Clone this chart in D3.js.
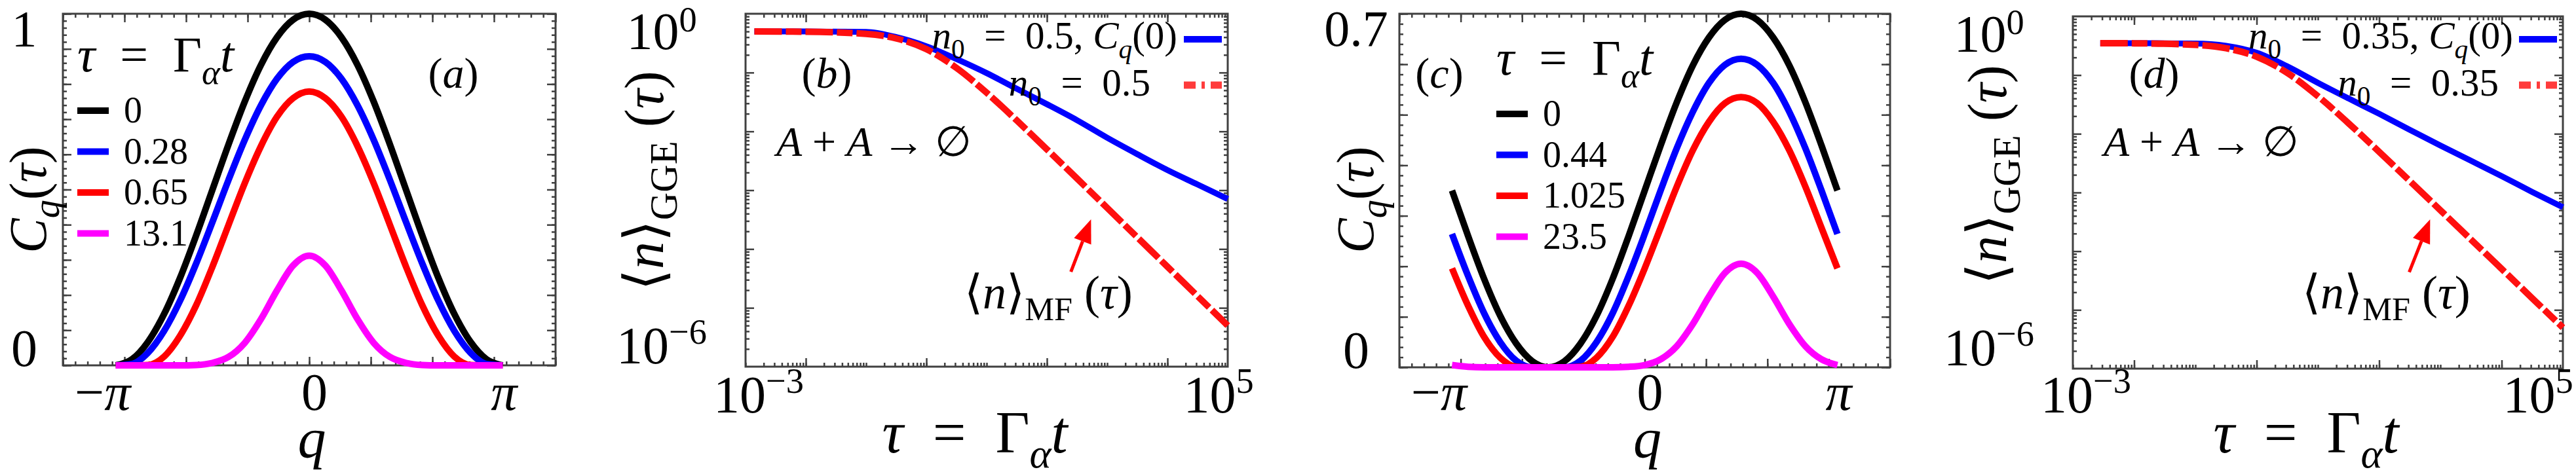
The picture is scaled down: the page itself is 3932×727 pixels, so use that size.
<!DOCTYPE html>
<html>
<head>
<meta charset="utf-8">
<script src="https://cdn.jsdelivr.net/npm/d3@7"></script>
<style>
body{margin:0;background:#fff;}
text,tspan{font-family:"Liberation Serif","DejaVu Serif",serif;white-space:pre;fill:#000;}
</style>
</head>
<body>
<svg id="fig" width="3932" height="727"></svg>
<script>
// momentum grid, -pi .. pi
var qVals=[-3.1416,-2.8798,-2.618,-2.3562,-2.0944,-1.8326,-1.5708,-1.309,-1.0472,-0.7854,-0.5236,-0.2618,0,
           0.2618,0.5236,0.7854,1.0472,1.309,1.5708,1.8326,2.0944,2.3562,2.618,2.8798,3.1416];

// panel (a) C_q(tau)
var cqA_0   =[0,0.017,0.067,0.146,0.25,0.371,0.5,0.629,0.75,0.854,0.933,0.983,1,0.983,0.933,0.854,0.75,0.629,0.5,0.371,0.25,0.146,0.067,0.017,0];
var cqA_028 =[0,0.004,0.036,0.098,0.185,0.291,0.408,0.528,0.641,0.739,0.815,0.863,0.879,0.863,0.815,0.739,0.641,0.528,0.408,0.291,0.185,0.098,0.036,0.004,0];
var cqA_065 =[0,0,0.001,0.025,0.085,0.172,0.281,0.4,0.518,0.623,0.707,0.76,0.779,0.76,0.707,0.623,0.518,0.4,0.281,0.172,0.085,0.025,0.001,0,0];
var cqA_131 =[0,0,0,0,0,0.001,0.007,0.024,0.064,0.131,0.213,0.284,0.312,0.284,0.213,0.131,0.064,0.024,0.007,0.001,0,0,0,0,0];
var tausA=["0","0.28","0.65","13.1"];

// panel (c) C_q(tau)
var cqC_0   =[0.35,0.26,0.175,0.102,0.047,0.012,0,0.012,0.047,0.102,0.175,0.26,0.35,0.44,0.525,0.598,0.653,0.688,0.7,0.688,0.653,0.598,0.525,0.44,0.35];
var cqC_044 =[0.264,0.181,0.107,0.05,0.013,0,0,0,0.013,0.05,0.107,0.181,0.264,0.351,0.434,0.506,0.563,0.599,0.611,0.599,0.563,0.506,0.434,0.351,0.264];
var cqC_1025=[0.196,0.122,0.06,0.019,0.001,0,0,0,0.001,0.019,0.06,0.122,0.196,0.277,0.358,0.43,0.486,0.523,0.535,0.523,0.486,0.43,0.358,0.277,0.196];
var cqC_235 =[0.0045,0.001,0,0,0,0,0,0,0,0,0,0.001,0.0045,0.016,0.042,0.086,0.14,0.187,0.205,0.187,0.14,0.086,0.042,0.016,0.0045];
var tausC=["0","0.44","1.025","23.5"];

// panel (b) density, n0 = 0.5
var tauB  =[0.0014,0.01,0.1,0.316,1,3.16,10,31.6,100,316,1000,3160,10000,31600,100000];
var nB_gge=[0.5,0.499,0.49,0.4,0.28,0.17,0.098,0.053,0.029,0.0155,0.0078,0.0041,0.0022,0.00125,0.00071];
var nB_mf =[0.4993,0.495,0.4545,0.38,0.25,0.12,0.04545,0.01534,0.00495,0.00158,0.0005,0.000158,0.00005,0.0000158,0.000005];

// panel (d) density, n0 = 0.35
var tauD  =[0.0028,0.01,0.1,0.316,1,3.16,10,31.6,100,316,1000,3160,10000,31600,100000];
var nD_gge=[0.35,0.349,0.345,0.315,0.24,0.141,0.074,0.04,0.0219,0.0117,0.0063,0.00347,0.0019,0.00102,0.00056];
var nD_mf =[0.3493,0.3476,0.327,0.2866,0.2059,0.109,0.04375,0.01514,0.00493,0.001575,0.000499,0.0001582,0.00005,0.0000158,0.000005];

var colors=["#000000","#0000ff","#ff0000","#ff00ff"];
var frameCol="#404040";
var serif="'Liberation Serif','DejaVu Serif',serif";

var svg=d3.select("#fig");
svg.append("rect").attr("width",3932).attr("height",727).attr("fill","#fff");

// text with italic / sub / sup pieces
function mtext(g,x,y,size,parts,anchor,supRaise){
    var t=g.append("text").attr("x",x).attr("y",y).attr("font-size",size)
        .attr("font-family",serif).attr("text-anchor",anchor||"start");
    var cur=0;
    parts.forEach(function(p){
        var s=p[1]||"r", shift=0, fs=size;
        if (s=="si"||s=="sr"){shift=size*0.25;fs=size*0.7;}
        if (s=="sup"){shift=-size*(supRaise||0.38);fs=size*0.68;}
        var ts=t.append("tspan").text(p[0]).attr("font-size",fs).attr("dy",shift-cur);
        if (s=="i"||s=="si") ts.attr("font-style","italic");
        cur=shift;
    });
    return t;
}

function frame(g,x,y){
    g.append("rect")
        .attr("x",x.range()[0]).attr("y",y.range()[1])
        .attr("width",x.range()[1]-x.range()[0])
        .attr("height",y.range()[0]-y.range()[1])
        .attr("fill","none").attr("stroke",frameCol).attr("stroke-width",3);
}

// inward ticks on all four sides
function ticks(g,x,y,xMaj,xMin,yMaj,yMin){
    var xb=y.range()[0], xt=y.range()[1], yl=x.range()[0], yr=x.range()[1];
    [[xMin,6],[xMaj,13]].forEach(function(p){
        g.append("g").attr("transform","translate(0,"+xb+")")
            .call(d3.axisBottom(x).tickValues(p[0]).tickSize(-p[1]).tickFormat(""));
        g.append("g").attr("transform","translate(0,"+xt+")")
            .call(d3.axisTop(x).tickValues(p[0]).tickSize(-p[1]).tickFormat(""));
    });
    [[yMin,6],[yMaj,13]].forEach(function(p){
        g.append("g").attr("transform","translate("+yl+",0)")
            .call(d3.axisLeft(y).tickValues(p[0]).tickSize(-p[1]).tickFormat(""));
        g.append("g").attr("transform","translate("+yr+",0)")
            .call(d3.axisRight(y).tickValues(p[0]).tickSize(-p[1]).tickFormat(""));
    });
    g.selectAll(".domain").remove();
    g.selectAll(".tick text").remove();
    g.selectAll(".tick line").attr("stroke",frameCol).attr("stroke-width",2.5);
}

var tauTitle=[["τ","i"],["\u2002=\u2002"],["Γ"],["α","si"],["t","i"]];
var cqTitle=[["C","i"],["q","si"],["("],["τ","i"],[")"]];

// ---------- panels (a) and (c) ----------
function cqPanel(box,ymax,series,taus,opt){
    var g=svg.append("g");
    var x=d3.scaleLinear().domain([-4,4]).range(box.x);
    var y=d3.scaleLinear().domain([0,ymax]).range(box.y);
    frame(g,x,y);
    var xMin=d3.range(-40,41,2).map(function(v){return v/10;});
    var yMin=d3.range(0,Math.round(ymax*50)+1).map(function(v){return v/50;});
    var yMaj=d3.range(0,Math.round(ymax*10)+1).map(function(v){return v/10;});
    ticks(g,x,y,d3.range(-4,5),xMin,yMaj,yMin);

    var line=d3.line().x(function(d){return x(d[0]);}).y(function(d){return y(d[1]);})
        .curve(d3.curveMonotoneX);
    series.forEach(function(s,i){
        g.append("path").datum(qVals.map(function(q,k){return [q,s[k]];}))
            .attr("d",line).attr("fill","none").attr("stroke",colors[i])
            .attr("stroke-width",10).attr("stroke-linejoin","round");
    });

    // tick labels
    var yl=box.x[0]-opt.ylabOff;
    mtext(g,yl,y(ymax)+49,78,[[opt.topLab]],"middle");
    mtext(g,yl,y(0)+1,80,[["0"]],"middle");
    mtext(g,x(-Math.PI)-20,626,80,[["−"],["π","i"]],"middle");
    mtext(g,x(0)+8,626,80,[["0"]],"middle");
    mtext(g,x(Math.PI)+2,626,80,[["π","i"]],"middle");
    // axis titles
    mtext(g,(box.x[0]+box.x[1])/2+4,698,86,[["q","i"]],"middle");
    var yt=g.append("g").attr("transform","translate("+opt.ytX+",305) rotate(-90)");
    mtext(yt,0,0,80,cqTitle,"middle");

    // legend
    mtext(g,opt.legX,opt.legY,76,tauTitle);
    taus.forEach(function(t,i){
        var cy=opt.legY+60+i*62.5;
        g.append("line").attr("x1",opt.legX).attr("x2",opt.legX+48)
            .attr("y1",cy).attr("y2",cy).attr("stroke",colors[i]).attr("stroke-width",10);
        mtext(g,opt.legX+71,cy+18,56,[[t]]);
    });
    // panel tag
    mtext(g,opt.tagX,134,66,[["("],[opt.tag,"i"],[")"]],"middle");
}

cqPanel({x:[96,848],y:[558,21]},1,[cqA_0,cqA_028,cqA_065,cqA_131],tausA,
    {topLab:"1",ylabOff:59,ytX:70,legX:118,legY:109,tag:"a",tagX:692});
cqPanel({x:[2136,2885],y:[561,21]},0.7,[cqC_0,cqC_044,cqC_1025,cqC_235],tausC,
    {topLab:"0.7",ylabOff:66,ytX:2096,legX:2284,legY:114,tag:"c",tagX:2197});

// ---------- panels (b) and (d) ----------
function densPanel(box,tau,nGGE,nMF,opt){
    var g=svg.append("g");
    var x=d3.scaleLog().domain([1e-3,1e5]).range(box.x);
    var y=d3.scaleLog().domain([1e-6,1]).range(box.y);
    frame(g,x,y);
    var xMin=[], yMin=[];
    for (var k=-3;k<5;k++) for (var j=1;j<10;j++) xMin.push(j*Math.pow(10,k));
    for (k=-6;k<0;k++) for (j=2;j<10;j++) yMin.push(j*Math.pow(10,k));
    ticks(g,x,y,[1e-2,1,1e2,1e4],xMin,[1e-5,1e-4,1e-3,1e-2,1e-1],yMin);

    var line=d3.line().x(function(d){return x(d[0]);}).y(function(d){return y(d[1]);})
        .curve(d3.curveMonotoneX);
    g.append("path").datum(tau.map(function(t,i){return [t,nGGE[i]];}))
        .attr("d",line).attr("fill","none").attr("stroke","#0000ff").attr("stroke-width",9);
    g.append("path").datum(tau.map(function(t,i){return [t,nMF[i]];}))
        .attr("d",line).attr("fill","none").attr("stroke","#ff1010").attr("stroke-width",10)
        .attr("stroke-dasharray","42,6,24,6");

    // tick labels
    var yl=box.x[0]-128;
    mtext(g,yl,y(1)+54,80,[["10"],["0","sup"]],"middle",0.34);
    mtext(g,yl,y(1e-6)-5,80,[["10"],["−6","sup"]],"middle");
    mtext(g,x(1e-3)+20,630,80,[["10"],["−3","sup"]],"middle");
    mtext(g,x(1e5)+opt.x5Off,630,80,[["10"],["5","sup"]],"middle");
    // axis titles
    mtext(g,(box.x[0]+box.x[1])/2-18,691,90,tauTitle,"middle");
    var yt=g.append("g").attr("transform","translate("+opt.ytX+","+opt.ytY+") rotate(-90)");
    mtext(yt,0,0,84,[["⟨"],["n","i"],["⟩"],["GGE","sr"],[" ("],["τ","i"],[")"]],"middle");

    // legend, top right
    var lx=box.x[1]-67;
    mtext(g,opt.l1End,74,59,[["n","i"],["0","sr"],["\u2002=\u2002"+opt.n0+", "],["C","i"],["q","si"],["(0)"]],"end");
    mtext(g,opt.l2End,146,59,[["n","i"],["0","sr"],["\u2002=\u2002"+opt.n0]],"end");
    g.append("line").attr("x1",lx).attr("x2",lx+58).attr("y1",60).attr("y2",60)
        .attr("stroke","#0000ff").attr("stroke-width",10);
    g.append("line").attr("x1",lx).attr("x2",lx+58).attr("y1",130).attr("y2",130)
        .attr("stroke","#ff3b3b").attr("stroke-width",11).attr("stroke-dasharray","18,9,5,9");

    // annotations
    mtext(g,opt.tagX,134,66,[["("],[opt.tag,"i"],[")"]],"middle");
    mtext(g,opt.aaX,238,64,[["A","i"],[" + "],["A","i"],[" → ∅"]]);
    mtext(g,opt.mfX,471,72,[["⟨"],["n","i"],["⟩"],["MF","sr"],[" ("],["τ","i"],[")"]]);
    var p0=[x(opt.arrow[0][0]),y(opt.arrow[0][1])], p1=[x(opt.arrow[1][0]),y(opt.arrow[1][1])];
    var ang=Math.atan2(p1[1]-p0[1],p1[0]-p0[0]), hl=36, hw=14;
    var bx=p1[0]-hl*Math.cos(ang), by=p1[1]-hl*Math.sin(ang);
    g.append("line").attr("x1",p0[0]).attr("y1",p0[1]).attr("x2",bx).attr("y2",by)
        .attr("stroke","#ff0000").attr("stroke-width",5);
    g.append("path").attr("fill","#ff0000")
        .attr("d","M"+p1[0]+","+p1[1]+"L"+(bx+hw*Math.sin(ang))+","+(by-hw*Math.cos(ang))
            +"L"+(bx-hw*Math.sin(ang))+","+(by+hw*Math.cos(ang))+"Z");
}

densPanel({x:[1138,1874],y:[560,21]},tauB,nB_gge,nB_mf,
    {n0:"0.5",l1End:1797,l2End:1756,ytX:1012,ytY:276,tag:"b",tagX:1262,aaX:1185,mfX:1472,x5Off:-14,
     arrow:[[250,4.1e-5],[540,3.2e-4]]});
densPanel({x:[3164,3912],y:[563,25]},tauD,nD_gge,nD_mf,
    {n0:"0.35",l1End:3836,l2End:3814,ytX:3062,ytY:267,tag:"d",tagX:3288,aaX:3211,mfX:3514,x5Off:-38,
     arrow:[[310,4.4e-5],[680,3.5e-4]]});
</script>
</body>
</html>
